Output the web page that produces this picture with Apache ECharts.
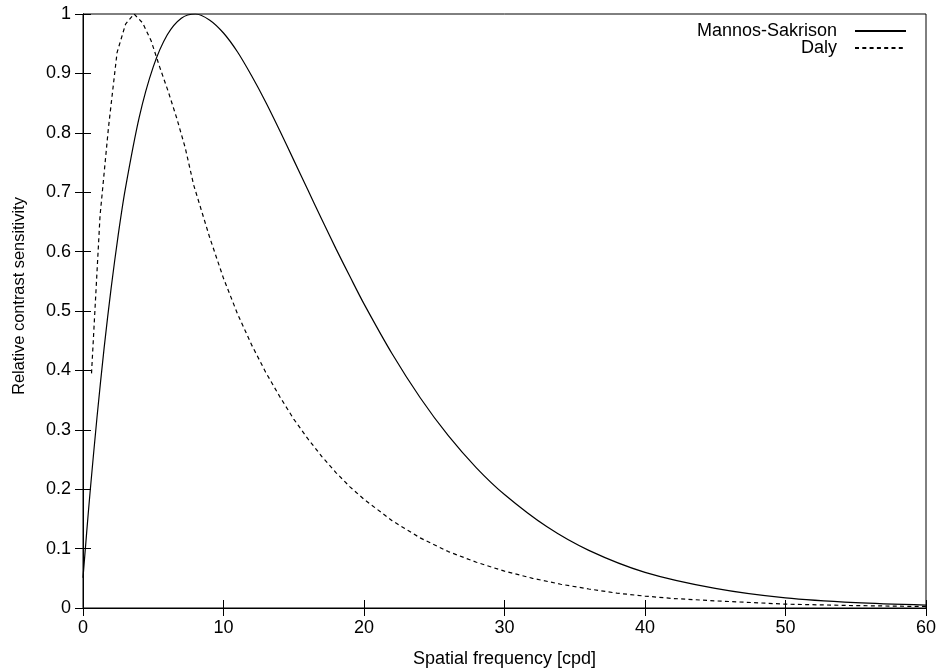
<!DOCTYPE html>
<html>
<head>
<meta charset="utf-8">
<script src="https://cdn.jsdelivr.net/npm/echarts@6/dist/echarts.min.js"></script>
<style>
  html, body { margin: 0; padding: 0; background: #fff; }
  #chart { width: 942px; height: 670px; }
</style>
</head>
<body>
<div id="chart"></div>
<script>
// Mannos-Sakrison curve
const msFreq = [0, 0.25, 0.5, 1, 1.5, 2, 2.5, 3, 4, 5, 6, 7, 8, 9, 10, 11, 12, 13, 14, 15, 16, 17, 18, 19, 20,
  22, 24, 26, 28, 30, 33, 36, 40, 45, 50, 55, 60]
const msValue = [0.051, 0.124, 0.194, 0.322, 0.437, 0.538, 0.627, 0.704, 0.826, 0.911, 0.965, 0.993, 1.0, 0.990,
  0.968, 0.936, 0.896, 0.852, 0.804, 0.754, 0.704, 0.654, 0.605, 0.558, 0.512,
  0.428, 0.354, 0.290, 0.236, 0.191, 0.137, 0.097, 0.060, 0.033, 0.017, 0.009, 0.005]

// Daly curve (starts a little right of 0)
const dalyFreq = [0.606, 1.212, 1.818, 2.424, 3.03, 3.636, 4.242, 4.848, 5.455, 6.06, 6.667, 7.273, 7.879,
  9, 10, 11, 12, 13, 14, 15, 16, 17, 18, 19, 20, 22, 24, 26, 28, 30, 32, 34, 36, 38, 40, 42, 45, 50, 55, 60]
const dalyValue = [0.395, 0.66, 0.81, 0.935, 0.983, 1.0, 0.985, 0.955, 0.911, 0.87, 0.825, 0.775, 0.712,
  0.625, 0.555, 0.495, 0.443, 0.397, 0.356, 0.318, 0.285, 0.255, 0.228, 0.204, 0.183, 0.147, 0.118, 0.095, 0.077,
  0.062, 0.050, 0.040, 0.032, 0.025, 0.020, 0.016, 0.012, 0.0065, 0.004, 0.0025]

const FONT = "'Liberation Sans', Arial, sans-serif"
const black = '#000'

const chart = echarts.init(document.getElementById('chart'))

const pairs = (xs, ys) => xs.map((x, i) => [x, ys[i]])

// 镜像刻度 (top / right) like gnuplot
const tickIn = { show: true, inside: true, length: 8, lineStyle: { color: black, width: 1 } }

const legendBase = {
  right: 30,
  align: 'right',
  itemWidth: 51,
  itemHeight: 10,
  itemStyle: { opacity: 0 },
  textStyle: { fontFamily: FONT, fontSize: 18, color: black, padding: [0, 13, 0, 0] }
}

const option = {
  animation: false,
  backgroundColor: '#fff',
  grid: {
    left: 83,
    right: 16,
    top: 14,
    bottom: 62,
    outerBoundsMode: 'none',
    show: true,
    borderColor: black,
    borderWidth: 1
  },
  legend: [
    { ...legendBase, data: ['Mannos-Sakrison'], top: 17 },
    { ...legendBase, data: ['Daly'], top: 34 }
  ],
  xAxis: [
    {
      type: 'value',
      min: 0,
      max: 60,
      interval: 10,
      name: 'Spatial frequency [cpd]',
      nameLocation: 'middle',
      nameGap: 42,
      nameTextStyle: { fontFamily: FONT, fontSize: 18, color: black },
      axisLine: { show: true, lineStyle: { color: black, width: 1 } },
      axisTick: tickIn,
      axisLabel: { fontFamily: FONT, fontSize: 18, color: black, margin: 11 },
      splitLine: { show: false }
    },
    {
      type: 'value',
      position: 'top',
      min: 0,
      max: 60,
      interval: 10,
      axisLine: { show: true, lineStyle: { color: black, width: 1 } },
      axisTick: tickIn,
      axisLabel: { show: false },
      splitLine: { show: false }
    }
  ],
  yAxis: [
    {
      type: 'value',
      min: 0,
      max: 1,
      interval: 0.1,
      name: 'Relative contrast sensitivity',
      nameLocation: 'middle',
      nameGap: 56,
      nameRotate: 90,
      nameTextStyle: { fontFamily: FONT, fontSize: 16.4, color: black, padding: [0, 0, 0, 30] },
      axisLine: { show: true, lineStyle: { color: black, width: 1 } },
      axisTick: tickIn,
      axisLabel: { fontFamily: FONT, fontSize: 18, color: black, margin: 12 },
      splitLine: { show: false }
    },
    {
      type: 'value',
      position: 'right',
      min: 0,
      max: 1,
      interval: 0.1,
      axisLine: { show: true, lineStyle: { color: black, width: 1 } },
      axisTick: tickIn,
      axisLabel: { show: false },
      splitLine: { show: false }
    }
  ],
  series: [
    {
      name: 'Mannos-Sakrison',
      type: 'line',
      data: pairs(msFreq, msValue),
      smooth: 0.3,
      symbol: 'none',
      itemStyle: { color: black },
      lineStyle: { color: black, width: 1.2 }
    },
    {
      name: 'Daly',
      type: 'line',
      data: pairs(dalyFreq, dalyValue),
      smooth: false,
      symbol: 'none',
      itemStyle: { color: black },
      lineStyle: { color: black, width: 1.2, type: [4, 3.3] }
    }
  ]
}

chart.setOption(option)
</script>
</body>
</html>
